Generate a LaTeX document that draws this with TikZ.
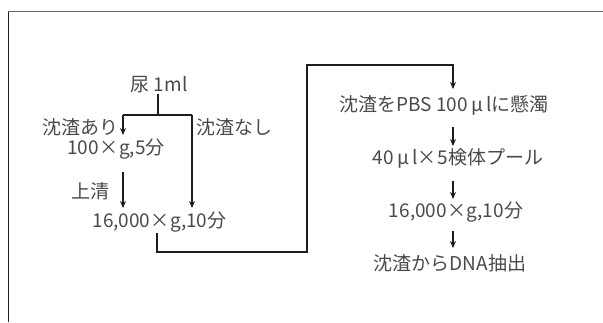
\documentclass[tikz,border=0pt]{standalone}
\usepackage{fontspec}
\setmainfont{Noto Sans CJK JP}
\usetikzlibrary{arrows.meta}
\definecolor{txt}{HTML}{4A4A4A}
\definecolor{ln}{HTML}{1E1E1E}
\newcommand{\fwx}{\makebox[1.05em]{×}}
\newcommand{\fwmu}{\makebox[0.95em]{μ}}
\begin{document}
\begin{tikzpicture}[x=1pt,y=-1pt,
  lbl/.style={inner sep=0pt,text=txt,font=\fontsize{19}{22}\selectfont},
  conn/.style={draw=ln,line width=1.6pt},
  arr/.style={conn,-{Stealth[length=7pt,width=6pt]}}]
\useasboundingbox (0,0) rectangle (603,322);
% frame
\draw[gray!80!black,line width=1.5pt] (8,11.5) -- (603,11.5);
\draw[ln,line width=0.9pt] (8,11.5) -- (8,322);
% left column
\node[lbl] (urine) at (159,85) {尿 1ml};
\node[lbl] (sed) at (80.5,127) {沈渣あり};
\node[lbl] (nosed) at (234,127) {沈渣なし};
\node[lbl] (c100) at (116,149) {100\fwx g,5分};
\node[lbl] (sup) at (90.5,191) {上清};
\node[lbl] (c16a) at (159.5,222) {16,000\fwx g,10分};
% right column
\node[lbl] (r1) at (444,105) {沈渣をPBS 100\fwmu lに懸濁};
\node[lbl] (r2) at (458,158) {40\fwmu l\fwx 5検体プール};
\node[lbl] (r3) at (456,212) {16,000\fwx g,10分};
\node[lbl] (r4) at (450,263) {沈渣からDNA抽出};
% coordinates
\coordinate (ut) at (158,94);
\coordinate (j) at (158,115);
\coordinate (jl) at (123,115);
\coordinate (jr) at (192,115);
\coordinate (a1e) at (123,135);
\coordinate (a2s) at (123,172);
\coordinate (a2e) at (123,208);
\coordinate (a3e) at (192,208);
\coordinate (b0) at (157,233);
\coordinate (b1) at (157,252);
\coordinate (b2) at (307,252);
\coordinate (b3) at (307,65);
\coordinate (b4) at (453,65);
\coordinate (b5) at (453,89);
\coordinate (d1s) at (453,127);
\coordinate (d1e) at (453,146);
\coordinate (d2s) at (453,181);
\coordinate (d2e) at (453,199);
\coordinate (d3s) at (453,231);
\coordinate (d3e) at (453,248);
% connectors
\draw[conn] (ut) -- (j);
\draw[conn] (jl) -- (jr);
\draw[arr] (jl) -- (a1e);
\draw[arr] (jr) -- (a3e);
\draw[arr] (a2s) -- (a2e);
\draw[arr] (b0) -- (b1) -- (b2) -- (b3) -- (b4) -- (b5);
\draw[arr] (d1s) -- (d1e);
\draw[arr] (d2s) -- (d2e);
\draw[arr] (d3s) -- (d3e);
\end{tikzpicture}
\end{document}
